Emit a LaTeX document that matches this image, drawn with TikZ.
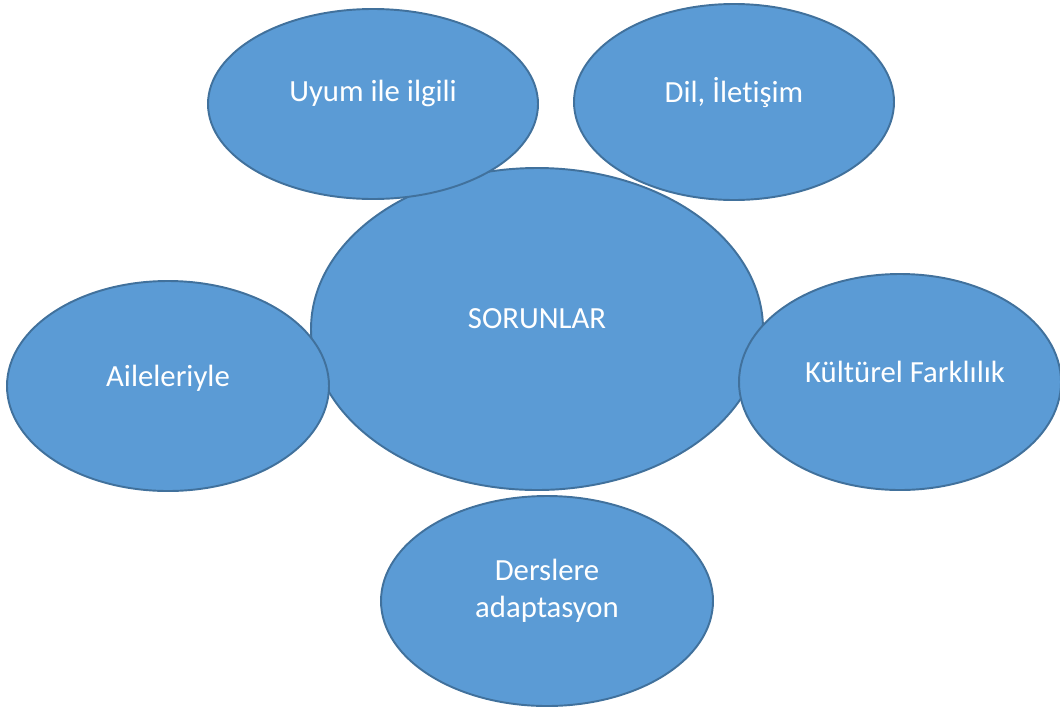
\documentclass[tikz,border=0pt]{standalone}
\usepackage{fontspec}
\setmainfont{Carlito}[Ligatures=NoCommon]
\usetikzlibrary{shapes.geometric}
\definecolor{topicfill}{HTML}{5B9BD5}
\definecolor{topicline}{HTML}{41719C}
\tikzset{
  topic/.style={shape=ellipse,draw=topicline,fill=topicfill,line width=1.1pt,inner sep=0pt},
  topictext/.style={text=white,font=\fontsize{17.5}{21}\selectfont,align=center}
}
\begin{document}
\begin{tikzpicture}
            \useasboundingbox (0,0) rectangle (21.2,-14.2);
            \node[topic,minimum width=9.04cm,minimum height=6.44cm] (S) at (10.74,-6.58) {};
            \node[topic,minimum width=6.6cm,minimum height=3.8cm] (U) at (7.46,-2.08) {};
            \node[topic,minimum width=6.4cm,minimum height=3.92cm] (D) at (14.68,-2.04) {};
            \node[topic,minimum width=6.44cm,minimum height=4.2cm] (A) at (3.36,-7.72) {};
            \node[topic,minimum width=6.44cm,minimum height=4.32cm] (K) at (18.0,-7.64) {};
            \node[topic,minimum width=6.64cm,minimum height=4.2cm] (L) at (10.94,-12.02) {};
            \node[topictext] (St) at ([yshift=0.2cm]S.center) {SORUNLAR};
            \node[topictext] (Ut) at ([yshift=0.22cm]U.center) {Uyum ile ilgili};
            \node[topictext] (Dt) at ([yshift=0.18cm]D.center) {Dil, İletişim};
            \node[topictext] (At) at ([yshift=0.16cm]A.center) {Aileleriyle};
            \node[topictext] (Kt) at ([xshift=0.1cm,yshift=0.2cm]K.center) {Kültürel Farklılık};
            \node[topictext] (Lt) at ([yshift=0.2cm]L.center) {Derslere\\adaptasyon};
        \end{tikzpicture}
\end{document}
